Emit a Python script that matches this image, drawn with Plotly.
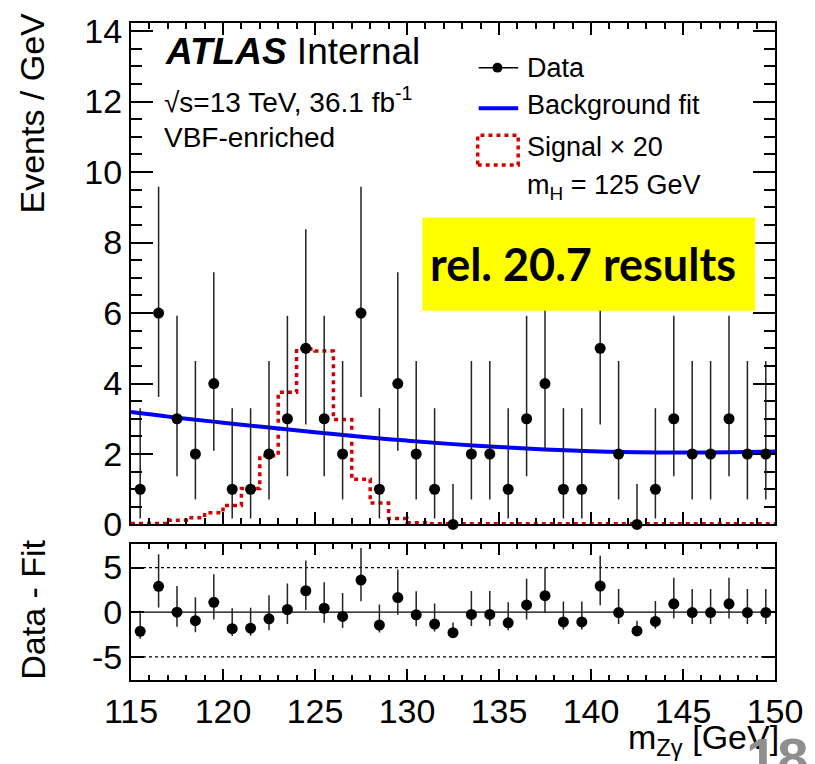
import plotly.graph_objects as go

# ---------------- data ----------------
bin_centers = [115.5, 116.5, 117.5, 118.5, 119.5, 120.5, 121.5, 122.5, 123.5, 124.5,
               125.5, 126.5, 127.5, 128.5, 129.5, 130.5, 131.5, 132.5, 133.5, 134.5,
               135.5, 136.5, 137.5, 138.5, 139.5, 140.5, 141.5, 142.5, 143.5, 144.5,
               145.5, 146.5, 147.5, 148.5, 149.5]
data_counts = [1, 6, 3, 2, 4, 1, 1, 2, 3, 5,
               3, 2, 6, 1, 4, 2, 1, 0, 2, 2,
               1, 3, 4, 1, 1, 5, 2, 0, 1, 3,
               2, 2, 3, 2, 2]
err_up = [2.30, 3.58, 2.92, 2.64, 3.16, 2.30, 2.30, 2.64, 2.92, 3.38,
          2.92, 2.64, 3.58, 2.30, 3.16, 2.64, 2.30, 1.15, 2.64, 2.64,
          2.30, 2.92, 3.16, 2.30, 2.30, 3.38, 2.64, 1.15, 2.30, 2.92,
          2.64, 2.64, 2.92, 2.64, 2.64]
err_lo = [0.83, 2.38, 1.63, 1.29, 1.91, 0.83, 0.83, 1.29, 1.63, 2.16,
          1.63, 1.29, 2.38, 0.83, 1.91, 1.29, 0.83, 0.00, 1.29, 1.29,
          0.83, 1.63, 1.91, 0.83, 0.83, 2.16, 1.29, 0.00, 0.83, 1.63,
          1.29, 1.29, 1.63, 1.29, 1.29]
residuals = [-2.15, 2.90, 0.00, -0.96, 1.10, -1.85, -1.80, -0.74, 0.30, 2.40,
             0.44, -0.48, 3.60, -1.44, 1.63, -0.30, -1.33, -2.30, -0.26, -0.26,
             -1.19, 0.81, 1.85, -1.10, -1.10, 2.93, -0.04, -2.10, -1.04, 0.93,
             -0.04, -0.04, 0.93, -0.04, -0.04]

bin_edges = [115, 116, 117, 118, 119, 120, 121, 122, 123, 124, 125, 126,
             127, 128, 129, 130, 131, 132, 133, 134, 135, 136, 137, 138,
             139, 140, 141, 142, 143, 144, 145, 146, 147, 148, 149, 150]
signal_x20 = [0.03, 0.03, 0.12, 0.19, 0.33, 0.54, 1.02, 1.95, 3.75, 4.98,
              4.92, 2.98, 1.28, 0.61, 0.17, 0.05, 0.02, 0.02, 0.02, 0.02,
              0.02, 0.02, 0.02, 0.02, 0.02, 0.02, 0.02, 0.02, 0.02, 0.02,
              0.02, 0.02, 0.02, 0.02, 0.02]

fit_x = [115, 117.5, 120, 122.5, 125, 127.5, 130, 132.5, 135, 137.5, 140, 142.5, 145, 147.5, 150]
fit_y = [3.19, 3.03, 2.89, 2.75, 2.62, 2.49, 2.38, 2.28, 2.20, 2.13, 2.08, 2.05, 2.04, 2.05, 2.07]

x_ticks = [115, 120, 125, 130, 135, 140, 145, 150]
y_ticks = [0, 2, 4, 6, 8, 10, 12, 14]
r_ticks = [-5, 0, 5]
r_ticklabels = ["-5", "0", "5"]

# ---------------- layout geometry (pixels) ----------------
W, H = 815, 764
L, R, T, B = 131, 32, 18, 84
PW, PH = W - L - R, H - T - B


def px(x):
    return (x - L) / PW


def py(y):
    return (H - B - y) / PH


FONT = "Liberation Sans, Arial, Helvetica, sans-serif"
RED = "#d40000"
BLUE = "#0000ff"

fig = go.Figure()

# signal histogram (x20)
fig.add_trace(go.Scatter(
    x=bin_edges, y=signal_x20 + [signal_x20[-1]], mode="lines",
    line=dict(color=RED, width=3.5, dash="4px,4px", shape="hv"),
    xaxis="x", yaxis="y", showlegend=False, hoverinfo="skip"))

# background fit
fig.add_trace(go.Scatter(
    x=fit_x, y=fit_y, mode="lines",
    line=dict(color=BLUE, width=4, shape="spline", smoothing=1.0),
    xaxis="x", yaxis="y", showlegend=False))

# data
fig.add_trace(go.Scatter(
    x=bin_centers, y=data_counts, mode="markers",
    marker=dict(color="black", size=11),
    error_y=dict(type="data", symmetric=False, array=err_up, arrayminus=err_lo,
                 color="#222222", thickness=1.5, width=0),
    cliponaxis=False, xaxis="x", yaxis="y", showlegend=False))

# residuals
fig.add_trace(go.Scatter(
    x=bin_centers, y=residuals, mode="markers",
    marker=dict(color="black", size=11),
    error_y=dict(type="data", symmetric=False, array=err_up, arrayminus=err_lo,
                 color="#222222", thickness=1.5, width=0),
    cliponaxis=False, xaxis="x2", yaxis="y2", showlegend=False))

axis_common = dict(showline=True, linecolor="black", linewidth=2, mirror="allticks",
                   ticks="inside", tickcolor="black", tickwidth=1.5,
                   showgrid=False, zeroline=False,
                   tickfont=dict(family=FONT, size=34, color="black"))

main_bottom = py(523.3)
ratio_top = py(543.3)

fig.update_layout(
    width=W, height=H,
    margin=dict(l=L, r=R, t=T, b=B, pad=0),
    paper_bgcolor="white", plot_bgcolor="white",
    showlegend=False,
    xaxis=dict(domain=[0, 1], range=[115, 150], anchor="y", tickvals=x_ticks,
               ticklen=12, showticklabels=False,
               minor=dict(ticks="inside", ticklen=6, dtick=1, tick0=115,
                          tickcolor="black", tickwidth=1.5),
               **axis_common),
    yaxis=dict(domain=[main_bottom, 1], range=[0, 14.23], anchor="x", tickvals=y_ticks,
               ticklen=22,
               minor=dict(ticks="inside", ticklen=11, dtick=0.5, tick0=0,
                          tickcolor="black", tickwidth=1.5),
               **axis_common),
    xaxis2=dict(domain=[0, 1], range=[115, 150], anchor="y2", tickvals=x_ticks,
                ticklen=11,
                minor=dict(ticks="inside", ticklen=5, dtick=1, tick0=115,
                           tickcolor="black", tickwidth=1.5),
                **axis_common),
    yaxis2=dict(domain=[0, ratio_top], range=[-7.6, 7.6], anchor="x2", tickvals=r_ticks,
                ticktext=r_ticklabels, ticklen=13, **axis_common),
)

shapes = []
# reference lines in residual panel
for v, d in [(5, "dot"), (-5, "dot"), (0, "solid")]:
    shapes.append(dict(type="line", xref="x2", yref="y2", x0=115, x1=150, y0=v, y1=v,
                       line=dict(color="black", width=1.2, dash=d), layer="below"))

# yellow box
shapes.append(dict(type="rect", xref="paper", yref="paper",
                   x0=px(426), x1=px(763), y0=py(308), y1=py(214),
                   fillcolor="#ffff00", line=dict(width=0), layer="above"))

# legend symbols
shapes.append(dict(type="line", xref="paper", yref="paper", x0=px(483), x1=px(523),
                   y0=py(63), y1=py(63), line=dict(color="black", width=1.5)))
shapes.append(dict(type="circle", xref="paper", yref="paper", x0=px(497), x1=px(507),
                   y0=py(68), y1=py(58), fillcolor="black", line=dict(color="black", width=0)))
shapes.append(dict(type="line", xref="paper", yref="paper", x0=px(483), x1=px(523),
                   y0=py(104), y1=py(104), line=dict(color=BLUE, width=4)))
shapes.append(dict(type="rect", xref="paper", yref="paper", x0=px(482), x1=px(523),
                   y0=py(161), y1=py(131), line=dict(color=RED, width=3.5, dash="4px,4px")))
fig.update_layout(shapes=shapes)

ann = []


def text(x, y, s, size, anchor="left", color="black", family=FONT, angle=0):
    ann.append(dict(xref="paper", yref="paper", x=px(x), y=py(y), text=s,
                    showarrow=False, xanchor=anchor, yanchor="middle",
                    textangle=angle,
                    font=dict(family=family, size=size, color=color)))


text(163, 47, "<b><i>ATLAS</i></b> Internal", 37)
text(162, 96, "√s=13 TeV, 36.1 fb<sup>-1</sup>", 28)
text(162, 133, "VBF-enriched", 28)

text(530, 63, "Data", 27)
text(530, 101, "Background fit", 27)
text(530, 143, "Signal × 20", 27)
text(530, 183, "m<sub>H</sub> = 125 GeV", 27)

text(589, 261, "<b>rel. 20.7 results</b>", 45, anchor="center",
     family="Lato, Carlito, sans-serif")

text(31, 109, "Events / GeV", 34, anchor="center", angle=-90)
text(31, 609, "Data - Fit", 34, anchor="center", angle=-90)

text(789, 740, "m<sub>Zγ</sub> [GeV]", 34, anchor="right")
text(752, 758, "<b>18</b>", 56, color="#8f8f8f")

fig.update_layout(annotations=ann)

fig.write_html("out.html")
